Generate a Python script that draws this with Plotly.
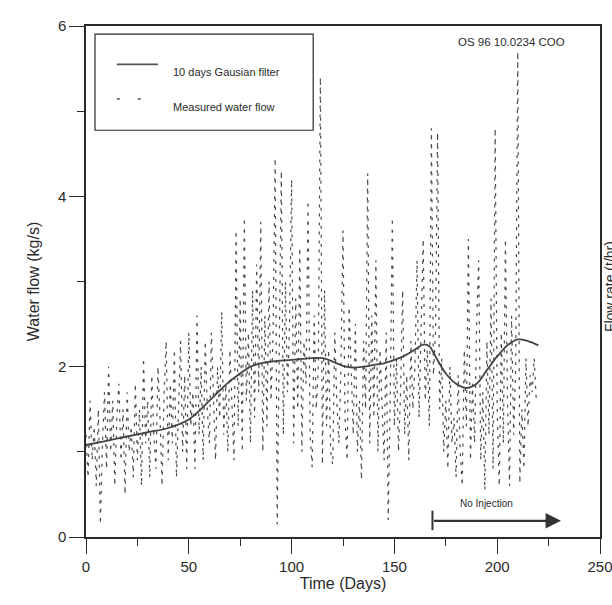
import plotly.graph_objects as go

# Measured water flow (kg/s), one value per day starting at day 0
measured_flow = [
    1.2, 0.7, 1.6, 0.9, 1.3, 0.6, 1.5, 0.15, 1.1, 1.7,
    0.8, 2.0, 1.0, 1.6, 0.6, 1.4, 1.8, 0.9, 1.5, 0.5,
    1.7, 1.0, 1.3, 0.7, 1.8, 0.9, 1.5, 0.6, 2.1, 1.1,
    1.6, 0.7, 1.9, 1.2, 0.8, 2.0, 1.4, 0.6, 1.7, 2.3,
    0.9, 1.8, 1.1, 2.2, 0.7, 1.6, 2.3, 1.0, 1.9, 0.8,
    2.4, 1.3, 1.7, 0.8, 2.6, 1.2, 2.0, 0.9, 2.3, 1.5,
    1.1, 2.4, 1.6, 0.9, 2.0, 1.4, 2.65, 1.2, 1.8, 1.0,
    2.2, 1.5, 0.9, 3.6, 1.3, 2.8, 1.0, 3.75, 1.6, 2.4,
    1.1, 2.9, 1.4, 3.2, 1.7, 3.7, 1.0, 2.6, 1.3, 3.0,
    1.6, 2.4, 4.45, 0.15, 2.0, 4.3, 1.2, 3.0, 1.7, 2.5,
    4.2, 1.1, 2.8, 1.5, 3.4, 1.0, 2.3, 1.8, 3.95, 1.2,
    0.82, 2.6, 1.5, 2.0, 5.4, 0.85, 2.9, 1.3, 2.2, 1.0,
    0.85, 2.4, 1.6, 1.1, 2.0, 3.6, 1.4, 0.9, 2.7, 1.8,
    1.2, 2.5, 1.0, 1.6, 0.67, 2.3, 1.5, 4.27, 1.1, 2.6,
    1.4, 3.25, 1.0, 2.2, 1.6, 0.9, 2.4, 0.2, 1.7, 3.75,
    1.3, 2.1, 1.0, 1.7, 2.9, 1.2, 1.9, 0.9, 2.3, 1.5,
    2.0, 3.25, 1.4, 2.6, 3.5, 1.6, 2.2, 1.3, 4.8, 1.9,
    2.4, 4.75, 1.5, 2.1, 1.0, 1.6, 0.8, 2.0, 1.1, 1.4,
    0.7, 1.9, 1.0, 0.6, 2.2, 1.3, 3.5, 0.9, 1.8, 1.1,
    2.5, 3.25, 0.9, 1.7, 0.55, 2.3, 1.2, 2.8, 0.8, 4.8,
    1.5, 0.6, 2.4, 1.1, 3.5, 1.6, 0.6, 2.6, 1.2, 2.0,
    5.7, 0.63, 1.5, 0.8, 2.1, 1.3, 1.9, 1.7, 2.1, 1.6,
]
measured_days = list(range(len(measured_flow)))

# 10 days Gaussian filter
filter_days = [0, 10, 20, 30, 40, 50, 55, 60, 65, 70, 75, 80, 85, 90, 100, 110,
               115, 120, 125, 130, 135, 140, 145, 150, 155, 160, 164, 167, 170,
               175, 180, 185, 190, 195, 200, 205, 210, 215, 220]
filter_flow = [1.08, 1.13, 1.18, 1.23, 1.28, 1.38, 1.48, 1.6, 1.72, 1.83, 1.92,
               2.0, 2.04, 2.06, 2.08, 2.1, 2.1, 2.06, 2.01, 1.99, 2.0, 2.02, 2.04,
               2.08, 2.13, 2.2, 2.26, 2.24, 2.12, 1.92, 1.8, 1.75, 1.8, 1.96,
               2.12, 2.25, 2.32, 2.3, 2.25]

x_ticks = [0, 50, 100, 150, 200, 250]
y_ticks = [0, 2, 4, 6]

no_injection_start = 168.5
no_injection_end = 231
arrow_level = 0.19

FONT = "Liberation Sans, Arial, sans-serif"
INK = "#2a2a2a"

fig = go.Figure()
fig.add_trace(go.Scatter(
    x=measured_days, y=measured_flow, mode="lines",
    line=dict(color="#4a4a4a", width=1.2, dash="3px,6px"),
    showlegend=False, name="Measured water flow"))
fig.add_trace(go.Scatter(
    x=filter_days, y=filter_flow, mode="lines",
    line=dict(color="#444444", width=1.8, shape="spline", smoothing=1.0),
    showlegend=False, name="10 days Gausian filter"))

# No Injection arrow
fig.add_annotation(x=no_injection_end, y=arrow_level, ax=no_injection_start, ay=arrow_level,
                   xref="x", yref="y", axref="x", ayref="y", text="", showarrow=True,
                   arrowhead=2, arrowsize=1.4, arrowwidth=2.2, arrowcolor="#333333")
fig.add_shape(type="line", xref="x", yref="y", x0=no_injection_start, x1=no_injection_start,
              y0=0.08, y1=0.31, line=dict(color="#333333", width=2))
fig.add_annotation(x=(no_injection_start + no_injection_end - 10) / 2, y=0.3, xref="x", yref="y",
                   text="No Injection", showarrow=False, yanchor="bottom",
                   font=dict(family=FONT, size=10, color=INK))

# Legend box drawn manually
fig.add_shape(type="rect", xref="paper", yref="paper", x0=0.0175, x1=0.442, y0=0.796, y1=0.984,
              line=dict(color=INK, width=1.2), fillcolor="white", layer="above")
fig.add_shape(type="line", xref="paper", yref="paper", x0=0.06, x1=0.14, y0=0.925, y1=0.925,
              line=dict(color="#555555", width=1.6), layer="above")
fig.add_shape(type="line", xref="paper", yref="paper", x0=0.06, x1=0.14, y0=0.857, y1=0.857,
              line=dict(color="#555555", width=1.6, dash="3px,18px"), layer="above")
fig.add_annotation(x=0.165, y=0.925, xref="paper", yref="paper", text="10 days Gausian filter",
                   showarrow=False, xanchor="left", font=dict(family=FONT, size=11, color=INK))
fig.add_annotation(x=0.165, y=0.857, xref="paper", yref="paper", text="Measured water flow",
                   showarrow=False, xanchor="left", font=dict(family=FONT, size=11, color=INK))

fig.add_annotation(x=0.936, y=0.984, xref="paper", yref="paper", text="OS 96 10.0234 COO",
                   showarrow=False, xanchor="right", yanchor="top",
                   font=dict(family=FONT, size=11.5, color=INK))

# Right axis title (partly beyond the page edge, as in the reference)
fig.add_annotation(x=0.999, y=0.49, xref="paper", yref="paper", text="Flow rate (t/hr)",
                   textangle=-90, showarrow=False, xanchor="left", yanchor="middle",
                   font=dict(family=FONT, size=14, color=INK))

fig.update_layout(
    width=612, height=605,
    margin=dict(l=86, r=12, t=26, b=68, autoexpand=False),
    paper_bgcolor="white", plot_bgcolor="white",
    font=dict(family=FONT, size=15, color=INK),
)
fig.update_xaxes(
    range=[0, 250], tickvals=x_ticks, ticks="outside", ticklen=15, tickwidth=1.2,
    tickcolor=INK, showline=True, linecolor=INK, linewidth=1.5, mirror=True,
    showgrid=False, zeroline=False, automargin=False, ticklabeloverflow="allow",
    minor=dict(dtick=25, ticks="outside", ticklen=7, tickcolor=INK, showgrid=False),
    title=dict(text="Time (Days)", standoff=4, font=dict(size=16)),
    tickfont=dict(size=15),
)
fig.update_yaxes(
    range=[0, 6], tickvals=y_ticks, ticks="outside", ticklen=15, tickwidth=1.2,
    tickcolor=INK, showline=True, linecolor=INK, linewidth=1.5, mirror=True,
    showgrid=False, zeroline=False, automargin=False, ticklabeloverflow="allow",
    minor=dict(dtick=1, ticks="outside", ticklen=7, tickcolor=INK, showgrid=False),
    title=dict(text="Water flow (kg/s)", standoff=14, font=dict(size=16)),
    tickfont=dict(size=15),
)

fig.write_html("out.html")
